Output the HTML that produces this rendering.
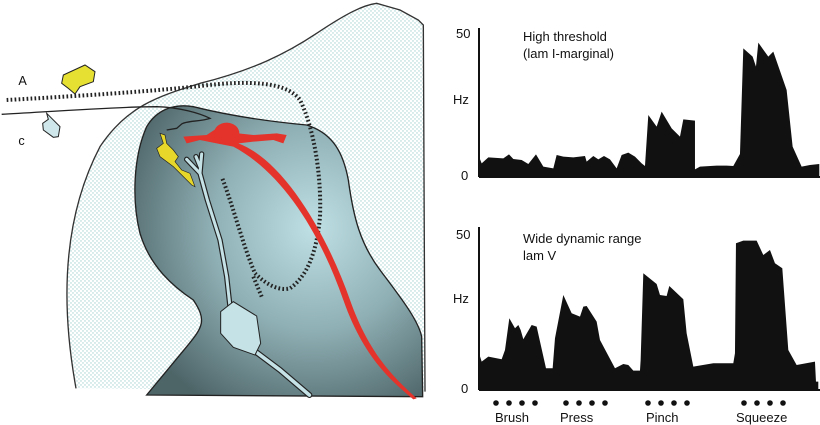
<!DOCTYPE html>
<html><head><meta charset="utf-8"><style>
html,body{margin:0;padding:0;background:#fff;width:820px;height:425px;overflow:hidden}
svg{position:absolute;left:0;top:0}
text{font-family:"Liberation Sans",Arial,sans-serif;fill:#111}
</style></head><body>
<svg width="440" height="425" viewBox="0 0 1320 1275">
<defs>
<pattern id="st" width="12" height="12" patternUnits="userSpaceOnUse">
<rect width="12" height="12" fill="#fff"/>
<circle cx="3" cy="3" r="2.2" fill="#a9d3d3"/><circle cx="9" cy="9" r="2.2" fill="#a9d3d3"/>
</pattern>
<radialGradient id="gr" cx="0.62" cy="0.42" r="0.7">
<stop offset="0" stop-color="#bfe0e4"/><stop offset="0.5" stop-color="#8fb0b5"/><stop offset="1" stop-color="#4e6568"/>
</radialGradient>
</defs>
<path d="M228,1165 C180,900 190,650 300,440 C380,320 470,290 600,250 C760,210 860,160 950,100 C1040,40 1090,15 1130,10 L1200,30 L1255,60 L1270,75 L1275,1175 Z" fill="url(#st)" stroke="none"/>
<path d="M228,1165 C180,900 190,650 300,440 C380,320 470,290 600,250 C760,210 860,160 950,100 C1040,40 1090,15 1130,10 L1200,30 L1255,60 L1270,75 L1275,1175" fill="none" stroke="#333" stroke-width="4"/>
<path d="M440,1185 L560,1040 C610,980 620,960 580,900 C520,860 450,800 420,700 C395,600 400,470 440,380 C470,330 520,310 580,320 C660,340 760,360 920,375 C1000,400 1030,460 1045,540 C1060,650 1080,730 1140,810 C1200,890 1255,960 1265,1010 L1268,1190 Z" fill="url(#gr)" stroke="#222" stroke-width="4"/>
<path d="M5,343 C150,335 350,320 470,320 C540,322 600,340 630,355 C600,365 560,362 545,372 L530,385 L500,390" fill="none" stroke="#222" stroke-width="4"/>
<path d="M140,340 L155,355 L180,380 L175,410 L160,412 L130,390 L128,370 L145,358 Z" fill="#cfe7ea" stroke="#222" stroke-width="3"/>
<path d="M190,225 L255,195 L285,215 L280,245 L240,260 L225,282 L205,265 L185,250 Z" fill="#e6e033" stroke="#222" stroke-width="3"/>
<path d="M480,400 L495,405 L500,430 L520,450 L535,470 L525,485 L545,510 L570,520 L585,560 L575,555 L520,500 L480,470 L470,445 L490,430 Z" fill="#e6d72a" stroke="#222" stroke-width="2"/>
<path d="M20,300 C200,290 450,275 600,258 C750,240 860,245 900,300 C940,380 965,520 960,650 C950,760 920,830 870,865 C830,875 790,845 765,820 C730,740 700,620 665,530" fill="none" stroke="#222" stroke-width="12" stroke-dasharray="5 7"/>
<path d="M760,830 L785,890" fill="none" stroke="#222" stroke-width="12" stroke-dasharray="5 7"/>
<g fill="none" stroke-linecap="round" stroke-linejoin="round">
<path d="M605,462 L600,520 L622,600 L660,720 L680,830 L690,920 M600,520 L560,478 M600,500 L588,470" stroke="#222" stroke-width="16"/>
<path d="M760,1050 L840,1110 L928,1185" stroke="#222" stroke-width="18"/>
<path d="M605,462 L600,520 L622,600 L660,720 L680,830 L690,920 M600,520 L560,478 M600,500 L588,470" stroke="#c5e2e6" stroke-width="9"/>
<path d="M760,1050 L840,1110 L928,1185" stroke="#c5e2e6" stroke-width="11"/>
</g>
<path d="M662,935 L700,905 L770,948 L782,1030 L765,1065 L700,1042 L662,1000 Z" fill="#c5e2e6" stroke="#222" stroke-width="3"/>
<path d="M550,410 L620,405 L650,385 L715,400 L760,405 L830,400 L860,405 L850,430 L820,420 L760,425 L715,430 C850,480 980,700 1050,900 C1110,1070 1190,1140 1250,1195 L1240,1198 C1170,1140 1090,1070 1030,900 C960,700 850,520 700,440 L650,430 L600,420 L560,430 Z" fill="#e3332a"/>
<ellipse cx="680" cy="400" rx="38" ry="32" fill="#e3332a"/>
<text x="55" y="255" font-size="38">A</text>
<text x="55" y="435" font-size="38">c</text>
</svg>
<svg width="820" height="425" viewBox="0 0 820 425" style="pointer-events:none">
<line x1="479" y1="28" x2="479" y2="177" stroke="#111" stroke-width="2"/>
<line x1="479" y1="177" x2="820" y2="177" stroke="#111" stroke-width="2"/>
<line x1="479" y1="227" x2="479" y2="390" stroke="#111" stroke-width="2"/>
<line x1="479" y1="390" x2="820" y2="390" stroke="#111" stroke-width="2"/>
<g transform="translate(440,0) scale(0.3333)">
<polygon fill="#111" points="117,530 117,470 125,490 145,472 190,475 207,463 220,477 245,480 265,492 288,463 310,500 340,505 350,465 370,470 400,472 435,468 440,485 460,468 475,478 492,468 510,478 530,505 545,465 565,458 585,470 605,490 615,498 625,345 650,380 665,335 695,385 720,410 730,358 765,362 765,508 780,500 830,497 860,497 880,498 900,462 910,145 938,170 948,200 955,128 985,170 1000,155 1040,270 1058,440 1085,500 1110,495 1138,492 1138,530"/>
<polygon fill="#111" points="117,1170 117,1060 125,1085 145,1070 185,1078 195,1050 208,955 225,985 235,975 242,990 250,1018 275,975 290,980 318,1105 338,1105 345,1015 370,885 395,940 420,950 430,920 440,918 470,965 480,1020 525,1105 550,1092 565,1095 580,1112 600,1112 602,1080 610,820 650,852 660,885 680,888 688,858 730,898 740,1000 760,1100 820,1090 880,1090 885,1060 888,730 910,722 950,722 970,765 990,750 1005,790 1027,805 1045,1050 1070,1095 1125,1085 1128,1145 1135,1145 1135,1170"/>
</g>
<g font-size="13">
<text x="456" y="38">50</text><text x="453" y="104">Hz</text><text x="461" y="180">0</text>
<text x="456" y="239">50</text><text x="453" y="303">Hz</text><text x="461" y="393">0</text>
<text x="523" y="41">High threshold</text><text x="523" y="58">(lam I-marginal)</text>
<text x="523" y="243">Wide dynamic range</text><text x="523" y="260">lam V</text>
<text x="495" y="422">Brush</text><text x="560" y="422">Press</text><text x="646" y="422">Pinch</text><text x="736" y="422">Squeeze</text>
</g>
<g fill="#111">
<circle cx="496" cy="403" r="2.8"/><circle cx="509" cy="403" r="2.8"/><circle cx="522" cy="403" r="2.8"/><circle cx="535" cy="403" r="2.8"/>
<circle cx="566" cy="403" r="2.8"/><circle cx="579" cy="403" r="2.8"/><circle cx="592" cy="403" r="2.8"/><circle cx="605" cy="403" r="2.8"/>
<circle cx="648" cy="403" r="2.8"/><circle cx="661" cy="403" r="2.8"/><circle cx="674" cy="403" r="2.8"/><circle cx="687" cy="403" r="2.8"/>
<circle cx="744" cy="403" r="2.8"/><circle cx="757" cy="403" r="2.8"/><circle cx="770" cy="403" r="2.8"/><circle cx="783" cy="403" r="2.8"/>
</g>
</svg>
</body></html>
